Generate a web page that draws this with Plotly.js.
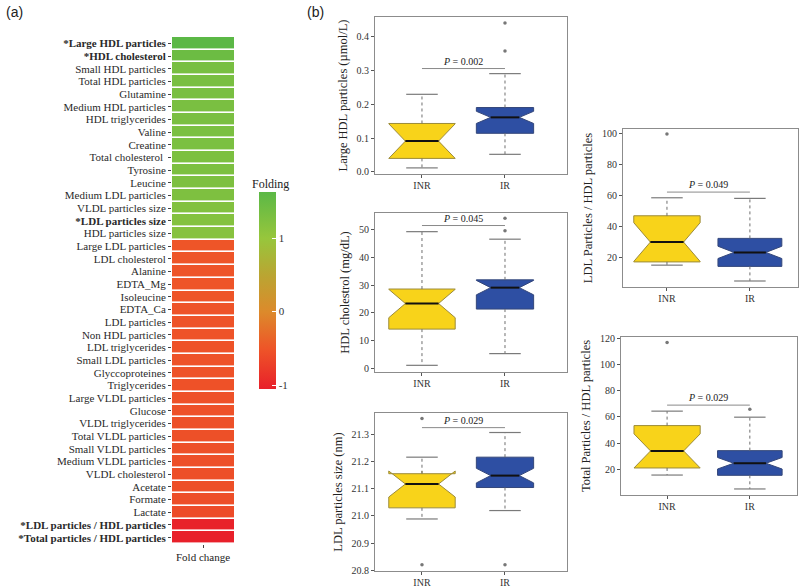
<!DOCTYPE html>
<html><head><meta charset="utf-8">
<script src="https://cdn.plot.ly/plotly-3.0.1.min.js"></script>
<style>html,body{margin:0;padding:0;background:#fff}#chart{width:800px;height:587px}</style>
</head><body><div id="chart"></div>
<script>
// ---------- (a) heatmap data ----------
const metabolites = [
 'Large HDL particles','HDL cholesterol','Small HDL particles','Total HDL particles','Glutamine',
 'Medium HDL particles','HDL triglycerides','Valine','Creatine','Total cholesterol ',
 'Tyrosine','Leucine','Medium LDL particles','VLDL particles size','LDL particles size',
 'HDL particles size','Large LDL particles','LDL cholesterol','Alanine','EDTA_Mg',
 'Isoleucine','EDTA_Ca','LDL particles','Non HDL particles','LDL triglycerides',
 'Small LDL particles','Glyccoproteines','Triglycerides','Large VLDL particles','Glucose',
 'VLDL triglycerides','Total VLDL particles','Small VLDL particles','Medium VLDL particles','VLDL cholesterol',
 'Acetate','Formate','Lactate','LDL particles / HDL particles','Total particles / HDL particles'];
const significant = [true,true,false,false,false,false,false,false,false,false,
 false,false,false,false,true,false,false,false,false,false,
 false,false,false,false,false,false,false,false,false,false,
 false,false,false,false,false,false,false,false,true,true];
const foldChange = [1.63,1.45,1.33,1.32,1.31,1.30,1.30,1.29,1.29,1.28,
 1.28,1.27,1.26,1.22,1.20,1.17,-0.50,-0.50,-0.51,-0.51,
 -0.51,-0.52,-0.52,-0.52,-0.53,-0.53,-0.53,-0.54,-0.54,-0.54,
 -0.55,-0.55,-0.55,-0.56,-0.56,-0.56,-0.57,-0.60,-1.02,-1.05];
const heatColumn = ['Fold change'];
const colorTicks = [-1, 0, 1];

// ---------- (b) box plot data ----------
const groups = ['INR', 'IR'];
const yTitles = ['Large HDL particles (\u00b5mol/L)', 'HDL cholestrol (mg/dL)', 'LDL particles size (nm)',
                 'LDL Particles / HDL particles', 'Total Particles / HDL particles'];
const q1          = [[0.040, 0.114], [14.2, 21.4], [21.030, 21.105], [16.8, 13.9], [21.0, 15.4]];
const median      = [[0.091, 0.161], [23.4, 29.1], [21.118, 21.149], [29.7, 23.0], [34.0, 24.6]];
const q3          = [[0.143, 0.190], [28.6, 31.9], [21.156, 21.217], [46.8, 32.1], [53.3, 34.2]];
const lowerFence  = [[0.012, 0.052], [1.2, 5.4], [20.989, 21.020], [14.7, 4.4], [15.6, 5.0]];
const upperFence  = [[0.229, 0.290], [49.2, 46.5], [21.217, 21.308], [58.5, 58.1], [64.3, 59.7]];
const notchSpan   = [[0.051, 0.018], [5.1, 2.6], [0.048, 0.027], [12.6, 4.0], [13.0, 4.4]];
const outliers    = [[[], [0.357, 0.439]], [[], [49.5, 54.0]], [[21.36, 20.82], [20.82]], [[100.0], []], [[116.7], [65.8]]];
const pLineY      = [0.305, 51.4, 21.326, 62.2, 68.9];
const pValues     = ['0.002', '0.045', '0.029', '0.049', '0.029'];
const yTickVals   = [[0, 0.1, 0.2, 0.3, 0.4], [0, 10, 20, 30, 40, 50], [20.8, 20.9, 21.0, 21.1, 21.2, 21.3],
                     [20, 40, 60, 80, 100], [20, 40, 60, 80, 100, 120]];

// ---------- styling / layout (not data) ----------
const FONT = 'Liberation Serif, Times New Roman, serif';
const px = (x) => x / 800, py = (y) => 1 - y / 587;
const panelBoxes = [ // frame in pixels: x0,x1,y0,y1
  [375, 567, 17, 174], [375, 567, 213, 372], [375, 567, 413, 571],
  [623, 798, 129, 287], [621, 797, 337, 495]];
const xRanges = [[-0.566, 1.747], [-0.566, 1.747], [-0.566, 1.747], [-0.53, 1.58], [-0.557, 1.57]];
const yRanges = [[-0.006, 0.457], [-1.2, 55.9], [20.797, 21.38], [0.5, 103.2], [0.4, 120.8]];
const yFormats = ['.1f', '', '.1f', '', ''];
const boxWidths = [[0.80, 0.69], [0.80, 0.69], [0.80, 0.69], [0.80, 0.77], [0.80, 0.78]];
const fillColors = ['#F8D31A', '#2E4FA3'];
const lineColors = ['#9C8B3A', '#34477A'];
const capHalf = 0.19;

const traces = [];
traces.push({
  type: 'heatmap', x: heatColumn, y: metabolites,
  z: foldChange.map(v => [v]), zmin: -1.05, zmax: 1.63, ygap: 1.6,
  colorscale: [[0, '#E8202A'], [0.205, '#EE5528'], [0.392, '#DC8A2B'], [0.578, '#BAA532'],
               [0.765, '#97C63C'], [1, '#5BB846']],
  colorbar: {x: px(259), xanchor: 'left', y: py(290.3), yanchor: 'middle', len: 197.3 / 587,
             lenmode: 'fraction', thickness: 17, thicknessmode: 'pixels', outlinewidth: 0,
             xpad: 0, ypad: 0, tickmode: 'array', tickvals: colorTicks, ticktext: colorTicks.map(String),
             ticks: 'inside', ticklen: 4, tickcolor: '#ffffff', tickwidth: 1.2,
             tickfont: {family: FONT, size: 11, color: '#333'}},
  hoverinfo: 'skip', xaxis: 'x', yaxis: 'y'
});

const layout = {
  width: 800, height: 587, margin: {l: 0, r: 0, t: 0, b: 0},
  paper_bgcolor: '#fff', plot_bgcolor: '#fff', showlegend: false,
  font: {family: FONT, color: '#333'},
  xaxis: {domain: [px(172), px(234)], anchor: 'y', ticks: 'outside', ticklen: 3, tickcolor: '#444',
          tickfont: {family: FONT, size: 11, color: '#222'}, showline: false, showgrid: false, zeroline: false, fixedrange: true},
  yaxis: {domain: [py(544), py(37)], anchor: 'x', autorange: 'reversed', ticks: 'outside', ticklen: 3, tickcolor: '#444',
          tickmode: 'array', tickvals: metabolites,
          ticktext: metabolites.map((m, i) => significant[i] ? '<b>*' + m + '</b>' : m),
          tickfont: {family: FONT, size: 11, color: '#2a2a2a'}, showline: false, showgrid: false, zeroline: false, fixedrange: true},
  annotations: [
    {text: '(a)', x: px(4), y: py(12), xref: 'paper', yref: 'paper', xanchor: 'left', yanchor: 'middle', showarrow: false,
     font: {family: 'Liberation Sans, Arial, sans-serif', size: 14, color: '#222'}},
    {text: '(b)', x: px(305), y: py(12), xref: 'paper', yref: 'paper', xanchor: 'left', yanchor: 'middle', showarrow: false,
     font: {family: 'Liberation Sans, Arial, sans-serif', size: 14, color: '#222'}},
    {text: 'Folding', x: px(270), y: py(184), xref: 'paper', yref: 'paper', xanchor: 'center', yanchor: 'middle', showarrow: false,
     font: {family: FONT, size: 12, color: '#222'}}
  ]
};

for (let p = 0; p < 5; p++) {
  const n = p + 2, xa = 'x' + n, ya = 'y' + n;
  const fr = panelBoxes[p];
  layout['xaxis' + n] = {domain: [px(fr[0]), px(fr[1])], anchor: ya, range: xRanges[p],
    tickmode: 'array', tickvals: [0, 1], ticktext: groups, ticks: 'outside', ticklen: 3, tickcolor: '#555',
    showline: true, mirror: true, linecolor: '#8c8c8c', linewidth: 1, showgrid: false, zeroline: false,
    ticklabelstandoff: -1,
    tickfont: {family: FONT, size: 10, color: '#333'}, fixedrange: true};
  layout['yaxis' + n] = {domain: [py(fr[3]), py(fr[2])], anchor: xa, range: yRanges[p],
    tickmode: 'array', tickvals: yTickVals[p], tickformat: yFormats[p], ticks: 'outside', ticklen: 3, tickcolor: '#555',
    showline: true, mirror: true, linecolor: '#8c8c8c', linewidth: 1, showgrid: false, zeroline: false,
    tickfont: {family: FONT, size: 10, color: '#333'}, fixedrange: true,
    title: {text: yTitles[p], font: {family: FONT, size: 12.5, color: '#222'}, standoff: 6}};

  for (let g = 0; g < 2; g++) {
    const w = boxWidths[p][g];
    traces.push({type: 'box', x: [g], q1: [q1[p][g]], median: [median[p][g]], q3: [q3[p][g]],
      lowerfence: [q1[p][g]], upperfence: [q3[p][g]], notched: true, notchspan: [notchSpan[p][g]],
      notchwidth: 0.25, width: w, whiskerwidth: 0, boxpoints: false,
      fillcolor: fillColors[g], line: {color: lineColors[g], width: 1},
      xaxis: xa, yaxis: ya, hoverinfo: 'skip'});
    // dotted whiskers
    traces.push({type: 'scatter', mode: 'lines', xaxis: xa, yaxis: ya, hoverinfo: 'skip',
      x: [g, g, null, g, g], y: [q3[p][g], upperFence[p][g], null, q1[p][g], lowerFence[p][g]],
      line: {color: '#6f6f6f', width: 1, dash: 'dot'}});
    // whisker caps
    traces.push({type: 'scatter', mode: 'lines', xaxis: xa, yaxis: ya, hoverinfo: 'skip',
      x: [g - capHalf, g + capHalf, null, g - capHalf, g + capHalf],
      y: [upperFence[p][g], upperFence[p][g], null, lowerFence[p][g], lowerFence[p][g]],
      line: {color: '#7a7a7a', width: 1.2}});
    // median
    traces.push({type: 'scatter', mode: 'lines', xaxis: xa, yaxis: ya, hoverinfo: 'skip',
      x: [g - w / 4, g + w / 4], y: [median[p][g], median[p][g]],
      line: {color: '#111', width: 2}});
    // outliers
    if (outliers[p][g].length) {
      traces.push({type: 'scatter', mode: 'markers', xaxis: xa, yaxis: ya, hoverinfo: 'skip',
        x: outliers[p][g].map(() => g), y: outliers[p][g],
        marker: {color: '#777', size: 3.5}});
    }
  }
  // P-value bracket
  traces.push({type: 'scatter', mode: 'lines', xaxis: xa, yaxis: ya, hoverinfo: 'skip',
    x: [0, 1], y: [pLineY[p], pLineY[p]], line: {color: '#8a8a8a', width: 1}});
  layout.annotations.push({text: '<i>P</i> = ' + pValues[p], x: 0.5, y: pLineY[p], xref: xa, yref: ya,
    xanchor: 'center', yanchor: 'bottom', yshift: 0, showarrow: false,
    font: {family: FONT, size: 10, color: '#222'}});
}

Plotly.newPlot('chart', traces, layout, {displayModeBar: false, staticPlot: true});
</script>
</body></html>
